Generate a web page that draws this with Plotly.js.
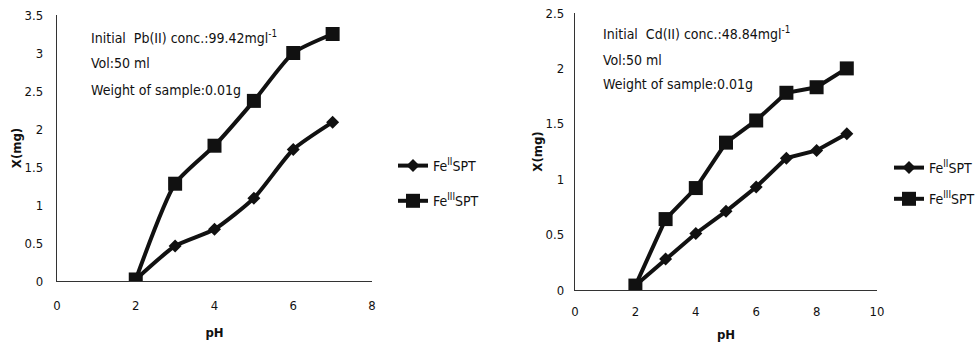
<!DOCTYPE html>
<html>
<head>
<meta charset="utf-8">
<script src="https://cdn.plot.ly/plotly-3.0.1.min.js"></script>
<style>html,body{margin:0;padding:0;background:#fff;}#chart{width:980px;height:349px;}</style>
</head>
<body>
<div id="chart"></div>
<script>
// Left chart: Pb(II)
const phPb = [2, 3, 4, 5, 6, 7];
const pbFeII = [0.02, 0.46, 0.68, 1.09, 1.73, 2.09];
const pbFeIII = [0.02, 1.28, 1.78, 2.37, 3.0, 3.25];
// Right chart: Cd(II)
const phCd = [2, 3, 4, 5, 6, 7, 8, 9];
const cdFeII = [0.04, 0.28, 0.51, 0.71, 0.93, 1.19, 1.26, 1.41];
const cdFeIII = [0.04, 0.64, 0.92, 1.33, 1.53, 1.78, 1.83, 2.0];
const seriesNames = ["Fe<sup>II</sup>SPT", "Fe<sup>III</sup>SPT"];
const xTicksPb = [0, 2, 4, 6, 8];
const yTicksPb = [0, 0.5, 1, 1.5, 2, 2.5, 3, 3.5];
const xTicksCd = [0, 2, 4, 6, 8, 10];
const yTicksCd = [0, 0.5, 1, 1.5, 2, 2.5];
const notesPb = ["Initial  Pb(II) conc.:99.42mgl<sup>-1</sup>", "Vol:50 ml", "Weight of sample:0.01g"];
const notesCd = ["Initial  Cd(II) conc.:48.84mgl<sup>-1</sup>", "Vol:50 ml", "Weight of sample:0.01g"];

const INK = '#111';
const FONT = '"DejaVu Sans Condensed", "Liberation Sans Narrow", Arial, sans-serif';
const W = 980, H = 349;
const px = v => v / W, py = v => 1 - v / H;

const traces = [
  {x: phPb, y: pbFeII, name: seriesNames[0], xaxis: 'x', yaxis: 'y', legend: 'legend', legendgroup: 'a1',
   mode: 'lines+markers', line: {color: INK, width: 4, shape: 'spline', smoothing: 0.6},
   marker: {symbol: 'diamond', size: 10, color: INK}},
  {x: phPb, y: pbFeIII, name: seriesNames[1], xaxis: 'x', yaxis: 'y', legend: 'legend', legendgroup: 'a2',
   mode: 'lines+markers', line: {color: INK, width: 4, shape: 'spline', smoothing: 0.6},
   marker: {symbol: 'square', size: 14, color: INK}},
  {x: phCd, y: cdFeII, name: seriesNames[0], xaxis: 'x2', yaxis: 'y2', legend: 'legend2', legendgroup: 'b1',
   mode: 'lines+markers', line: {color: INK, width: 4},
   marker: {symbol: 'diamond', size: 10, color: INK}},
  {x: phCd, y: cdFeIII, name: seriesNames[1], xaxis: 'x2', yaxis: 'y2', legend: 'legend2', legendgroup: 'b2',
   mode: 'lines+markers', line: {color: INK, width: 4},
   marker: {symbol: 'square', size: 14, color: INK}}
];

const axisCommon = {
  showgrid: false, zeroline: false, showline: true, linecolor: '#333', linewidth: 1.2,
  ticks: '', tickfont: {family: FONT, size: 13, color: INK}
};
const titleFont = {family: FONT, size: 13, color: INK, weight: 'bold'};

const annotations = [];
[[notesPb, 89, [37, 63, 90]], [notesCd, 601, [33, 60, 84]]].forEach(([notes, x0, ys]) => {
  notes.forEach((t, i) => annotations.push({
    xref: 'paper', yref: 'paper', x: px(x0), y: py(ys[i]), xanchor: 'left', yanchor: 'middle',
    text: t, showarrow: false, font: {family: FONT, size: 14, color: INK}
  }));
});

const legendCommon = {
  font: {family: FONT, size: 14, color: INK}, bgcolor: 'rgba(0,0,0,0)',
  traceorder: 'grouped', itemwidth: 30, yanchor: 'top'
};

const layout = {
  width: W, height: H, margin: {l: 0, r: 0, t: 0, b: 0},
  paper_bgcolor: '#fff', plot_bgcolor: 'rgba(0,0,0,0)',
  xaxis: Object.assign({}, axisCommon, {domain: [px(57), px(372)], range: [0, 8], tickvals: xTicksPb,
    ticklabelstandoff: 12, anchor: 'y',
    title: {text: 'pH', font: titleFont, standoff: 16}}),
  yaxis: Object.assign({}, axisCommon, {domain: [py(281), py(15)], range: [0, 3.5], tickvals: yTicksPb,
    ticklabelstandoff: 10, anchor: 'x',
    title: {text: 'X(mg)', font: titleFont, standoff: 0}}),
  xaxis2: Object.assign({}, axisCommon, {domain: [px(575), px(877)], range: [0, 10], tickvals: xTicksCd,
    ticklabelstandoff: 9, anchor: 'y2',
    title: {text: 'pH', font: titleFont, standoff: 12}}),
  yaxis2: Object.assign({}, axisCommon, {domain: [py(290), py(13)], range: [0, 2.5], tickvals: yTicksCd,
    ticklabelstandoff: 7, anchor: 'x2',
    title: {text: 'X(mg)', font: titleFont, standoff: 0}}),
  legend: Object.assign({}, legendCommon, {x: px(393), xanchor: 'left', y: py(150), tracegroupgap: 14}),
  legend2: Object.assign({}, legendCommon, {x: 1, xanchor: 'right', y: py(152), tracegroupgap: 10}),
  annotations: annotations,
  showlegend: true
};

Plotly.newPlot('chart', traces, layout, {displayModeBar: false, staticPlot: true});
</script>
</body>
</html>
